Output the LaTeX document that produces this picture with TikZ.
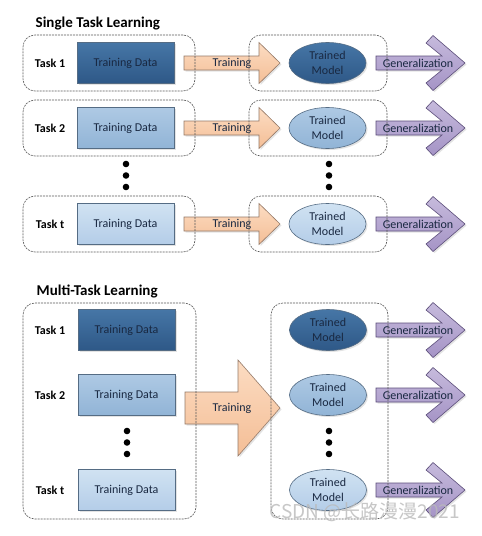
\documentclass[tikz,border=0pt]{standalone}
\usepackage{fontspec}
\setmainfont{Carlito}
\newfontfamily\cjkfont{Noto Sans CJK SC}
\usetikzlibrary{shapes.geometric,shadows}
\definecolor{dkT}{RGB}{70,118,166}
\definecolor{dkB}{RGB}{46,88,135}
\definecolor{mdT}{RGB}{174,201,228}
\definecolor{mdB}{RGB}{145,180,214}
\definecolor{ltT}{RGB}{208,226,242}
\definecolor{ltB}{RGB}{180,205,232}
\definecolor{bxline}{RGB}{85,108,132}
\definecolor{txt}{RGB}{25,40,65}
\definecolor{peT}{RGB}{252,220,194}
\definecolor{peB}{RGB}{244,190,150}
\definecolor{peL}{RGB}{150,122,104}
\definecolor{lvT}{RGB}{198,186,220}
\definecolor{lvB}{RGB}{165,148,198}
\definecolor{lvL}{RGB}{92,78,122}
\definecolor{dashc}{RGB}{90,90,90}
\newcommand\TrainArrow[1]{%
  \draw[trainshape] (184,#1-7) -- (259,#1-7) -- (259,#1-20.5) -- (280,#1) -- (259,#1+20.5) -- (259,#1+7) -- (184,#1+7) -- cycle;}
\newcommand\GenArrow[1]{%
  \draw[genshape] (376,#1-7) -- (442,#1-7) -- (426,#1-20) -- (433,#1-27.5) -- (465,#1) -- (433,#1+27.5) -- (426,#1+20) -- (442,#1+7) -- (376,#1+7) -- cycle;}
\begin{document}
\begin{tikzpicture}[x=1pt,y=-1pt,
  every node/.style={inner sep=0pt},
  shad/.style={drop shadow={shadow xshift=1.5pt,shadow yshift=-1.5pt,opacity=0.22}},
  fs/.style={font=\fontsize{12}{15}\selectfont},
  heading/.style={font=\fontsize{15}{17}\selectfont\bfseries,anchor=west},
  tasklbl/.style={font=\fontsize{12}{14}\selectfont\bfseries},
  databox/.style={draw=bxline,line width=0.6pt,minimum width=97pt,minimum height=41pt,text=txt,fs,shad},
  dk/.style={top color=dkT,bottom color=dkB},
  md/.style={top color=mdT,bottom color=mdB},
  lt/.style={top color=ltT,bottom color=ltB},
  model/.style={ellipse,draw=bxline,line width=0.6pt,minimum width=77pt,minimum height=41pt,text=txt,fs,align=center,shad},
  dashbox/.style={draw=dashc,line width=0.6pt,dash pattern=on 2pt off 1pt,rounded corners=12pt},
  trainshape/.style={draw=peL,line width=0.6pt,top color=peT,bottom color=peB,shad},
  genshape/.style={draw=lvL,line width=0.6pt,top color=lvT,bottom color=lvB,shad},
  albl/.style={text=txt,fs},
  dotc/.style={circle,fill=black,minimum size=6.6pt}
]
\useasboundingbox (0,0) rectangle (482,536);
\fill[white] (0,0) rectangle (482,536);

% ---------- Single Task Learning ----------
\node[heading] (h1) at (35.5,24) {Single Task Learning};

\foreach \yc/\nm/\sty/\lab in {63/1/dk/Task 1,128/2/md/Task 2,224/t/lt/Task t}{
  \TrainArrow{\yc}
  \GenArrow{\yc}
  \node[tasklbl] (st\nm) at (50,\yc) {\lab};
  \node[databox,\sty] (sd\nm) at (125.5,\yc) {Training Data};
  \node[model,\sty] (sm\nm) at (327.5,\yc) {Trained\\Model};
  \node[albl] (str\nm) at (232,\yc) {Training};
  \node[albl] (sg\nm) at (418,\yc) {Generalization};
  \node[dashbox,minimum width=172pt,minimum height=56pt] (sl\nm) at (109,\yc) {};
  \node[dashbox,minimum width=138pt,minimum height=56pt] (sr\nm) at (318,\yc) {};
}
\node[dotc] (sdl1) at (126,164) {};
\node[dotc] (sdl2) at (126,175.5) {};
\node[dotc] (sdl3) at (126,187) {};
\node[dotc] (sdr1) at (329,164) {};
\node[dotc] (sdr2) at (329,175.5) {};
\node[dotc] (sdr3) at (329,187) {};

% ---------- Multi-Task Learning ----------
\node[heading] (h2) at (36.5,291) {Multi-Task Learning};

\draw[trainshape] (185,392) -- (238,392) -- (238,360) -- (280,408) -- (238,456) -- (238,424) -- (185,424) -- cycle;
\node[albl] (mtr) at (232,408) {Training};

\foreach \yc/\nm/\sty/\lab in {330/1/dk/Task 1,395/2/md/Task 2,490/t/lt/Task t}{
  \GenArrow{\yc}
  \node[tasklbl] (mt\nm) at (50,\yc) {\lab};
  \node[databox,\sty] (md\nm) at (126.5,\yc) {Training Data};
  \node[model,\sty] (mm\nm) at (328,\yc) {Trained\\Model};
  \node[albl] (mg\nm) at (418,\yc) {Generalization};
}
\node[dotc] (mdl1) at (127,431) {};
\node[dotc] (mdl2) at (127,442.5) {};
\node[dotc] (mdl3) at (127,454) {};
\node[dotc] (mdr1) at (329,431) {};
\node[dotc] (mdr2) at (329,442.5) {};
\node[dotc] (mdr3) at (329,454) {};

\node[dashbox,minimum width=173pt,minimum height=216pt] (ml) at (109.5,411) {};
\node[dashbox,minimum width=117pt,minimum height=216pt] (mr) at (329.5,411) {};

% watermark
\node[text=gray!55,opacity=0.8,font=\cjkfont\fontsize{19}{21}\selectfont] (wm) at (365,512) {CSDN @长路漫漫2021};
\end{tikzpicture}
\end{document}
